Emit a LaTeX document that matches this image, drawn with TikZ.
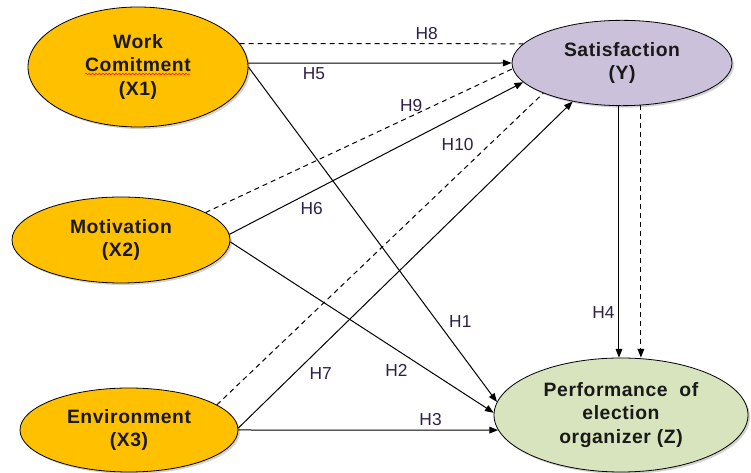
\documentclass[tikz,border=0pt]{standalone}
\usepackage{fontspec}
\setmainfont{Liberation Sans}
\usetikzlibrary{shapes.geometric,arrows.meta,shadows,decorations.pathmorphing}

\definecolor{orangefill}{HTML}{FFC000}
\definecolor{lilacfill}{HTML}{CCC1DA}
\definecolor{greenfill}{HTML}{D7E4BD}
\definecolor{hypcol}{HTML}{2E1F48}

\begin{document}
\begin{tikzpicture}[x=0.75pt, y=-0.75pt,
    var/.style={ellipse, draw, line width=0.6pt, inner sep=0pt, align=center,
        font=\fontsize{14.5}{17.5}\selectfont\bfseries\addfontfeatures{LetterSpace=3}, text=black!90,
        drop shadow={opacity=0.35, shadow xshift=1.5pt, shadow yshift=-1.5pt}},
    rel/.style={line width=0.75pt, -{Triangle[length=6.5pt, width=5pt]}},
    dashrel/.style={line width=0.75pt, dash pattern=on 3.75pt off 3pt}]
    \tikzset{hyp/.style={font=\fontsize{13}{15}\selectfont, text=hypcol, inner sep=3pt}}
    \useasboundingbox (0,0) rectangle (751,473);

    \node[var, fill=orangefill, minimum width=165pt, minimum height=90pt] (X1) at (138,67) {Work\\Comitment\\(X1)};
    \node[var, fill=orangefill, minimum width=163.5pt, minimum height=64.5pt] (X2) at (121,240) {Motivation\\(X2)};
    \node[var, fill=orangefill, minimum width=163.5pt, minimum height=63pt] (X3) at (129,430) {Environment\\(X3)};
    \node[var, fill=lilacfill, minimum width=165pt, minimum height=64pt] (Y) at (622,63) {Satisfaction\\(Y)};
    \node[var, fill=greenfill, minimum width=190.5pt, minimum height=85.5pt] (Z) at (621,415) {Performance\hspace{0.3em} of\\election\\organizer (Z)};
    \draw[red, line width=0.4pt, decorate, decoration={snake, amplitude=0.5pt, segment length=2.5pt}] (85,74) -- (190,74);

    \draw[dashrel] (X1.13) -- (Y.169) node[hyp, pos=0.66, above] (h8) {H8};
    \draw[rel] (X1.2) -- (Y.180) node[hyp, pos=0.25, below] (h5) {H5};
    \draw[rel] (X1.0) -- (Z.174) node[hyp, pos=0.79, above right] (h1) {H1};
    \draw[dashrel] (X2.18) -- (Y.183) node[hyp, pos=0.67, above] (h9) {H9};
    \draw[rel] (X2.3) -- (Y.191) node[hyp, pos=0.28, below=5pt] (h6) {H6};
    \draw[rel] (X2.-1) -- (Z.179) node[hyp, pos=0.69, below left] (h2) {H2};
    \draw[dashrel] (X3.16) -- (Y.201) node[hyp, pos=0.8, above left] (h10) {H10};
    \draw[rel] (X3.1) -- (Y.218) node[hyp, pos=0.2, below right] (h7) {H7};
    \draw[rel] (X3.0) -- (Z.187) node[hyp, pos=0.74, above] (h3) {H3};
    \draw[rel] (Y.266) -- (Y.266 |- Z.north) node[hyp, pos=0.82, left] (h4) {H4};
    \draw[rel, dashrel] (Y.294) -- (Y.294 |- Z.north);
\end{tikzpicture}
\end{document}
